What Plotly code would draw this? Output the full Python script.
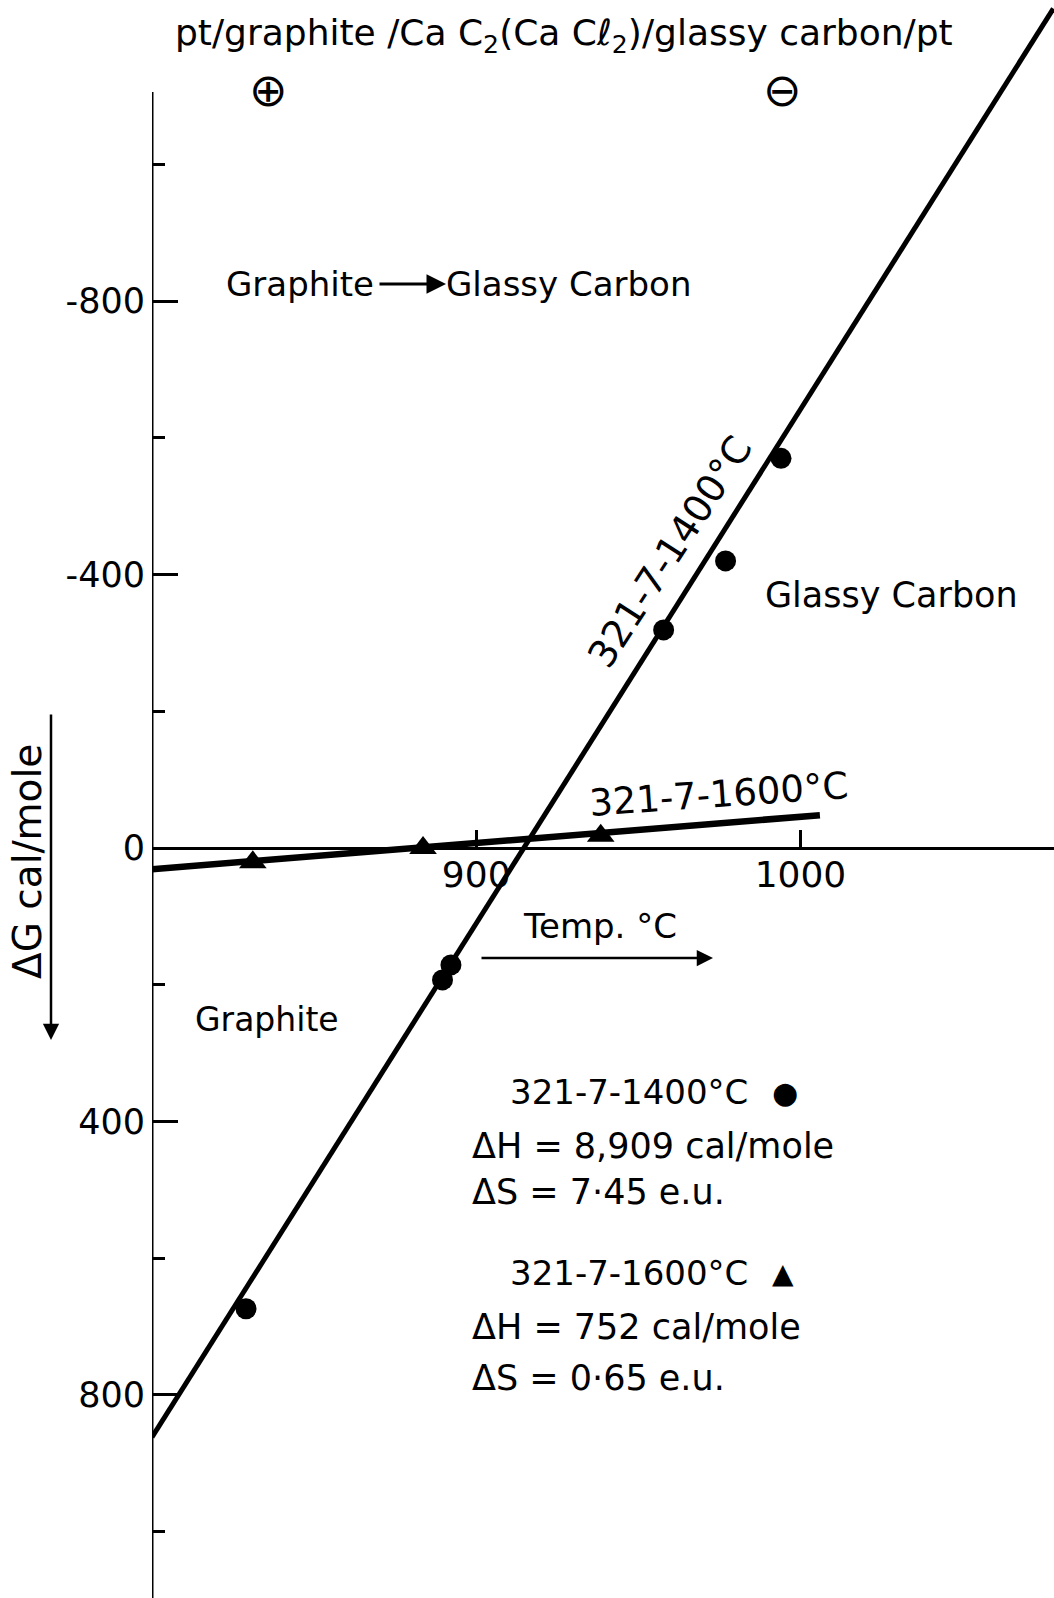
import plotly.graph_objects as go

# ---------------- data ----------------
series1400_T = [994.0, 976.9, 957.8, 892.2, 889.6, 829.0]
series1400_dG = [-570, -420, -319, 171, 193, 674]
series1600_T = [831.1, 883.6, 938.4]
series1600_dG = [21, 0, -18]
fit1400_T = [800, 1078]
fit1400_dG = [862, -1228]
fit1600_T = [800, 1006]
fit1600_dG = [31, -48]
y_major_ticks = [-800, -400, 0, 400, 800]
y_major_labels = ["-800", "-400", "0", "400", "800"]
y_minor_ticks = [-1000, -600, -200, 200, 600, 1000]
x_ticks = [900, 1000]
x_tick_labels = ["900", "1000"]

# ---------------- layout geometry ----------------
W, H = 1054, 1598
L = 152
X_RANGE = [800, 1078.2]
Y_BOTTOM, Y_TOP = 1097.1, -1240.5
Y_AXIS_TOP = -1106
FONT = "DejaVu Sans"


def px(x, y):
    """pixel position -> paper coordinates"""
    return (x - L) / (W - L), (H - y) / H


fig = go.Figure()
fig.add_trace(go.Scatter(x=fit1400_T, y=fit1400_dG, mode="lines",
                         line=dict(color="black", width=5), showlegend=False))
fig.add_trace(go.Scatter(x=fit1600_T, y=fit1600_dG, mode="lines",
                         line=dict(color="black", width=6.5), showlegend=False))
fig.add_trace(go.Scatter(x=series1400_T, y=series1400_dG, mode="markers",
                         marker=dict(symbol="circle", size=21, color="black"),
                         showlegend=False))
fig.add_trace(go.Scatter(x=series1600_T, y=series1600_dG, mode="markers",
                         marker=dict(symbol="triangle-up", size=24, color="black"),
                         showlegend=False))

# y axis line (starts below the top of the figure)
fig.add_shape(type="line", xref="x", yref="y", x0=X_RANGE[0], x1=X_RANGE[0],
              y0=Y_AXIS_TOP, y1=Y_BOTTOM, line=dict(color="black", width=3))

zero_pos = Y_BOTTOM / (Y_BOTTOM - Y_TOP)

fig.update_layout(
    width=W, height=H, autosize=False,
    margin=dict(l=L, r=0, t=0, b=0, pad=0),
    paper_bgcolor="white", plot_bgcolor="white",
    font=dict(family=FONT, color="black", size=34),
    xaxis=dict(range=X_RANGE, anchor="free", position=zero_pos,
               showline=True, linecolor="black", linewidth=3,
               ticks="inside", tickvals=x_ticks, ticktext=x_tick_labels,
               ticklen=17, tickwidth=3, tickcolor="black",
               tickfont=dict(size=36, family=FONT), ticklabelstandoff=-6,
               showgrid=False, zeroline=False),
    yaxis=dict(range=[Y_BOTTOM, Y_TOP], showline=False,
               ticks="inside", tickvals=y_major_ticks, ticktext=y_major_labels,
               ticklen=26, tickwidth=3, tickcolor="black",
               tickfont=dict(size=35, family=FONT), ticklabelstandoff=6,
               minor=dict(tickvals=y_minor_ticks, ticks="inside", ticklen=13,
                          tickwidth=3, tickcolor="black", showgrid=False),
               showgrid=False, zeroline=False),
)


def text(s, x, y, size=34, anchor="center", angle=0):
    xp, yp = px(x, y)
    fig.add_annotation(text=s, x=xp, y=yp, xref="paper", yref="paper",
                       xanchor=anchor, yanchor="middle", showarrow=False,
                       textangle=angle, font=dict(size=size, family=FONT, color="black"))


def arrow(x0, y0, x1, y1, width=2.5):
    xp, yp = px(x1, y1)
    fig.add_annotation(text="", x=xp, y=yp, xref="paper", yref="paper",
                       ax=x0 - x1, ay=y0 - y1, showarrow=True,
                       arrowhead=2, arrowsize=1.3, arrowwidth=width, arrowcolor="black")


text("pt/graphite /Ca C<sub>2</sub>(Ca Cℓ<sub>2</sub>)/glassy carbon/pt", 564, 36, size=36)
text("⊕", 268, 90, size=46)
text("⊖", 782, 90, size=46)
text("Graphite", 224, 284, size=34, anchor="left")
arrow(378, 284, 446, 284, width=3)
text("Glassy Carbon", 444, 284, size=34, anchor="left")
text("Glassy Carbon", 763, 595, size=35, anchor="left")
text("321-7-1400°C", 670, 552, size=38, angle=-57)
text("321-7-1600°C", 718, 794, size=37, angle=-4)
text("Graphite", 193, 1019, size=33, anchor="left")
text("Temp. °C", 600, 926, size=34)
arrow(480, 958, 713, 958)
text("ΔG cal/mole", 28, 861, size=39, angle=-90)
arrow(51, 713, 51, 1040)

text("321-7-1400°C", 508, 1092, size=34, anchor="left")
text("●", 785, 1092, size=30)
text("ΔH = 8,909 cal/mole", 470, 1146, size=35, anchor="left")
text("ΔS = 7·45 e.u.", 470, 1192, size=35, anchor="left")
text("321-7-1600°C", 508, 1273, size=34, anchor="left")
text("▲", 783, 1273, size=28)
text("ΔH = 752 cal/mole", 470, 1327, size=35, anchor="left")
text("ΔS = 0·65 e.u.", 470, 1378, size=35, anchor="left")

fig.write_html("out.html", config={"displayModeBar": False},
               post_script="document.body.style.margin='0';document.body.style.overflow='hidden';")
